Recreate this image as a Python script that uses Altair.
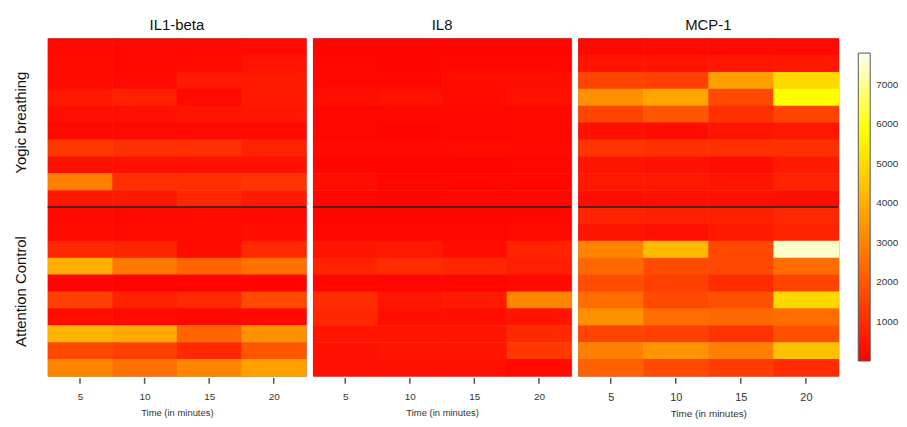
import altair as alt
import pandas as pd

times = [5, 10, 15, 20]
panels = ["IL1-beta", "IL8", "MCP-1"]
groups = ["Yogic breathing", "Attention Control"]

# rows top to bottom (rows 1-10 yogic breathing, 11-20 attention control), columns = times
il1b = [
    [180, 180, 180, 200],
    [230, 180, 230, 410],
    [275, 230, 600, 600],
    [550, 730, 230, 600],
    [370, 370, 460, 500],
    [230, 230, 230, 230],
    [1280, 1100, 1100, 780],
    [370, 370, 370, 370],
    [2900, 1100, 1100, 1190],
    [550, 550, 920, 600],
    [180, 180, 200, 180],
    [200, 200, 200, 300],
    [920, 820, 275, 920],
    [4000, 2750, 2300, 2570],
    [100, 100, 100, 100],
    [1470, 730, 920, 1650],
    [320, 230, 180, 180],
    [4130, 3850, 2300, 3300],
    [1650, 1470, 920, 2000],
    [3100, 2570, 3100, 3660],
]
il8 = [
    [120, 120, 120, 120],
    [150, 120, 150, 150],
    [150, 150, 300, 350],
    [300, 380, 200, 380],
    [150, 180, 180, 180],
    [150, 120, 150, 180],
    [200, 200, 250, 200],
    [120, 120, 120, 150],
    [300, 150, 150, 150],
    [150, 120, 150, 150],
    [120, 120, 120, 150],
    [150, 150, 150, 200],
    [460, 550, 300, 800],
    [800, 1000, 900, 700],
    [150, 150, 150, 200],
    [1000, 500, 600, 3100],
    [900, 350, 350, 460],
    [460, 460, 460, 920],
    [370, 460, 460, 1280],
    [370, 370, 370, 230],
]
mcp1 = [
    [180, 200, 200, 230],
    [460, 460, 500, 550],
    [1560, 1470, 3660, 4950],
    [3300, 3760, 1650, 5800],
    [1560, 2000, 1100, 1560],
    [370, 300, 460, 550],
    [1190, 1100, 1100, 1100],
    [460, 370, 300, 600],
    [550, 550, 460, 820],
    [300, 370, 370, 300],
    [820, 730, 730, 920],
    [460, 370, 600, 820],
    [3030, 4300, 1650, 7500],
    [2390, 1740, 1650, 2480],
    [1740, 1470, 1010, 1560],
    [2480, 1650, 1840, 4950],
    [3300, 2480, 2390, 2480],
    [1560, 1470, 1190, 1840],
    [2940, 3400, 2940, 4400],
    [2200, 1650, 1380, 1010],
]
legend_ticks = [1000, 2000, 3000, 4000, 5000, 6000, 7000]

FONT = "Liberation Sans"
DOMAIN = [0, 5850, 7800]
RANGE = ["#FF0000", "#FFFF00", "#FFFFF0"]
H = 340


def frame(rows):
    recs = []
    for i, row in enumerate(rows):
        for t, v in zip(times, row):
            recs.append({"x": t - 2.5, "x2": t + 2.5, "y": i, "y2": i + 1, "value": v})
    return pd.DataFrame(recs)


def panel(name, rows, width, with_labels=False, big=False):
    df = frame(rows)
    xs = alt.Scale(domain=[2.5, 22.5], nice=False, zero=False)
    ys = alt.Scale(domain=[0, 20], nice=False, zero=False, reverse=True)
    rect = alt.Chart(df).mark_rect(x2Offset=0.6, y2Offset=0.6).encode(
        x=alt.X("x:Q", scale=xs,
                axis=alt.Axis(values=times, title="Time (in minutes)", grid=False,
                              domain=False, ticks=False,
                              labelFontSize=11 if big else 10, labelColor="#333",
                              labelPadding=16, titleFontSize=10 if big else 9.5,
                              titleFontWeight="normal", titleColor="#333",
                              titlePadding=6, labelFont=FONT, titleFont=FONT)),
        x2="x2:Q",
        y=alt.Y("y:Q", scale=ys, axis=None),
        y2="y2:Q",
        color=alt.Color("value:Q",
                        scale=alt.Scale(domain=DOMAIN, range=RANGE, interpolate="rgb"),
                        legend=alt.Legend(title=None, orient="none", legendX=816, legendY=15,
                                          values=legend_ticks, format="d", gradientLength=310,
                                          gradientThickness=12, gradientStrokeColor="#555",
                                          gradientStrokeWidth=1, labelFont=FONT,
                                          labelFontSize=10, labelColor="#333",
                                          labelOffset=6, padding=0)),
    )
    ticks = alt.Chart(pd.DataFrame({"t": times})).mark_rule(
        color="#555", strokeWidth=1.5, clip=False
    ).encode(
        x=alt.X("t:Q", scale=xs), y=alt.value(H + 2), y2=alt.value(H + 8)
    )
    line = alt.Chart(pd.DataFrame({"y": [10]})).mark_rule(color="#222", strokeWidth=1.5).encode(
        y=alt.Y("y:Q", scale=ys)
    )
    layers = [rect, line, ticks]
    if with_labels:
        lab = pd.DataFrame({"label": groups, "y": [5, 15]})
        txt = alt.Chart(lab).mark_text(angle=270, fontSize=15, font=FONT, color="#111").encode(
            x=alt.value(-27), y=alt.Y("y:Q", scale=ys), text="label:N"
        )
        layers.append(txt)
    return alt.layer(*layers).properties(
        width=width, height=H,
        title=alt.TitleParams(name, fontSize=15, font=FONT, fontWeight="normal",
                              color="#111", offset=5),
    )


chart = alt.hconcat(
    panel("IL1-beta", il1b, 260, with_labels=True),
    panel("IL8", il8, 260),
    panel("MCP-1", mcp1, 262, big=True),
    spacing=3,
).properties(
    padding={"left": 5, "top": 8, "right": 0, "bottom": 0}
).configure_view(stroke="#999", strokeWidth=1)

chart.save("out.html", embed_options={"renderer": "svg", "actions": False})
